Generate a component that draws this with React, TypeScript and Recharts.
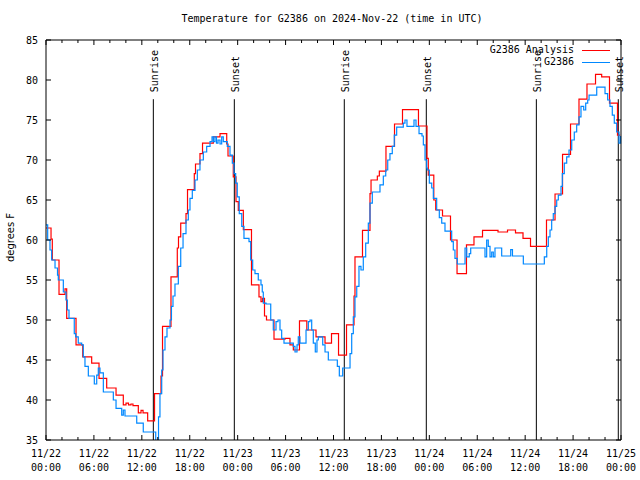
import React from 'react';
import { LineChart, Line, XAxis, YAxis, ReferenceLine } from 'recharts';

// hours since 11/22 00:00 UTC, and temperatures (deg F)
const analysisHours = [
  0, 0.63, 0.79, 1.63, 2.38, 2.59, 3.76, 4.6, 5.72, 6.64, 7.6, 8.77, 9.68, 10.02, 10.33, 10.64, 10.89,
  11.56, 11.9, 12.15, 12.73, 13.59, 14.4, 14.59, 15.65, 16.44, 16.59, 16.87, 17.53, 17.72, 18.57,
  18.72, 19.28, 19.6, 20.95, 21.79, 22.63, 22.79, 23.45, 23.79, 24.08, 24.71, 25.73, 26.67, 26.92,
  27.11, 27.36, 27.61, 28.55, 29.93, 30.55, 30.97, 31.74, 32.66, 33.81, 34.94, 35.75, 36.63, 37.63,
  38.57, 38.69, 39.63, 40.57, 40.7, 41.49, 41.74, 42.57, 43.64, 44.64, 46.64, 47.71, 47.87, 48.56,
  48.8, 49.65, 50.65, 51.47, 52.65, 53.59, 54.66, 56.6, 57.79, 58.79, 59.73, 60.67, 62.67, 63.74,
  64.68, 65.68, 66.74, 67.74, 68.81, 69.58, 70.56, 71.56, 71.9,
];
const analysisTemps = [
  61.5, 60.1, 57.5, 53.2, 53.9, 50.2, 46.9, 45.4, 44.6, 42.7, 41.5, 40.6, 39.4, 39.6, 39.4, 39.5, 39.3,
  38.4, 38.7, 38.4, 37.4, 40.8, 43.0, 49.2, 55.4, 59.0, 60.4, 62.1, 63.3, 66.3, 68.3,
  69.5, 70.8, 72.1, 72.9, 73.3, 72.0, 70.5, 67.9, 64.8, 63.7, 61.3, 54.4, 52.9, 52.3,
  52.7, 50.5, 50.0, 47.6, 47.7, 46.9, 46.25, 49.9, 48.75, 47.9, 47.1, 48.3, 45.6, 49.4,
  53.0, 57.9, 61.2, 65.8, 67.5, 68.0, 68.6, 71.7, 74.5, 76.3, 74.25, 70.2, 68.1, 65.0,
  63.75, 63.0, 60.0, 55.8, 59.4, 60.4, 61.2, 61.0, 61.25, 60.9, 60.2, 59.2, 62.5, 65.75,
  70.7, 74.5, 77.6, 79.5, 80.7, 80.4, 77.1, 73.1, 73.1,
];

const stationHours = [
  0, 0.21, 0.5, 0.71, 1.13, 1.44, 1.54, 2.17, 2.5, 2.67, 2.88, 3.54, 3.72, 4.04, 4.47, 4.67, 4.88, 5.3,
  6.05, 6.35, 6.55, 6.76, 7.18, 8.43, 8.77, 9.48, 9.68, 9.89, 11.36, 12.18, 13.74, 14.09, 14.27,
  14.49, 14.65, 14.9, 15.15, 15.53, 15.71, 15.9, 16.15, 16.57, 16.87, 17.16, 17.53, 17.82, 18.03,
  18.32, 18.66, 18.95, 19.28, 19.7, 20.12, 20.54, 20.79, 20.97, 21.16, 21.35, 21.54, 21.79, 22.0,
  22.2, 22.7, 23.04, 23.33, 23.54, 23.75, 23.95, 24.2, 24.51, 24.79, 25.42, 25.63, 25.88, 26.17,
  26.58, 26.92, 27.08, 27.21, 27.55, 28.14, 28.46, 28.8, 29.05, 29.3, 29.51, 29.8, 30.97, 31.18,
  31.43, 31.59, 31.8, 32.56, 32.85, 33.06, 33.27, 33.47, 33.72, 33.93, 34.1, 34.65, 34.94, 35.35,
  36.48, 36.73, 37.15, 38.07, 38.28, 38.48, 38.69, 38.91, 39.19, 39.44, 39.73, 40.03, 40.36, 40.57,
  40.86, 41.82, 42.24, 42.54, 42.79, 43.07, 43.36, 43.61, 43.91, 44.74, 44.95, 45.2, 46.08, 46.33,
  46.71, 47.08, 47.25, 47.46, 47.67, 47.75, 48.0, 48.3, 48.5, 48.92, 49.25, 49.55, 49.96, 50.8,
  51.0, 51.21, 51.5, 52.47, 52.68, 53.0, 53.18, 54.97, 55.18, 55.38, 55.6, 55.81, 56.01, 56.22,
  57.06, 58.19, 58.41, 59.77, 62.4, 62.7, 62.9, 63.11, 63.32, 63.52, 63.74, 63.95, 64.15, 64.49,
  64.65, 64.9, 65.2, 65.49, 65.83, 66.15, 66.45, 66.74, 66.99, 67.33, 67.58, 67.83, 68.0, 68.96,
  70.0, 70.33, 70.62, 70.91, 71.16, 71.46, 71.75, 71.94,
];
const stationTemps = [
  61.9, 60.0, 58.75, 57.5, 56.5, 55.6, 55.0, 53.5, 52.5, 51.25, 50.2, 48.3, 47.9, 47.1, 46.9, 45.4, 44.2, 43.0,
  42.0, 43.1, 44.0, 43.4, 41.0, 40.0, 38.96, 38.1, 38.75, 38.0, 37.1, 36.0, 34.5, 37.9, 40.8,
  43.75, 46.25, 47.9, 49.0, 50.0, 51.7, 53.0, 54.5, 56.7, 59.0, 60.8, 62.5, 63.75, 65.2,
  66.2, 67.5, 68.75, 70.0, 71.0, 71.7, 72.3, 72.9, 72.3, 72.9, 72.1, 72.5, 72.0, 72.9,
  72.3, 71.7, 70.6, 69.6, 68.3, 67.1, 65.4, 63.3, 61.7, 60.2, 59.8, 57.5, 56.25, 55.8,
  55.0, 54.4, 53.5, 52.1, 52.0, 50.0, 48.75, 49.8, 50.0, 48.75, 47.7, 47.1, 46.7, 46.0,
  46.9, 47.9, 47.1, 48.75, 49.8, 50.0, 48.75, 47.1, 46.0, 47.5, 47.9, 46.9, 46.0, 45.0,
  44.2, 43.0, 44.0, 45.8, 48.3, 50.4, 52.9, 54.2, 56.7, 56.25, 57.9, 59.6, 62.1, 64.6,
  66.0, 66.9, 68.0, 68.75, 70.0, 70.8, 71.7, 73.1, 74.1, 74.6, 75.0, 74.2, 75.0, 74.2,
  73.3, 73.0, 71.9, 70.0, 69.0, 68.75, 67.1, 66.5, 65.2, 63.75, 62.8, 62.1, 61.1, 59.8,
  58.75, 57.7, 57.0, 59.0, 57.9, 58.3, 59.0, 57.9, 60.0, 59.2, 57.9, 58.5, 57.9, 59.0,
  58.0, 58.8, 58.0, 57.0, 57.9, 59.2, 60.4, 61.25, 62.5, 63.3, 64.2, 65.0, 65.6, 66.7,
  68.3, 69.6, 70.4, 71.25, 72.5, 73.5, 74.4, 75.4, 76.7, 76.25, 77.1, 77.5, 78.1, 79.1,
  78.3, 77.5, 76.7, 75.6, 74.6, 73.5, 72.1, 73.0,
];

const sunLabels = ['Sunrise', 'Sunset', 'Sunrise', 'Sunset', 'Sunrise', 'Sunset'];
const sunHours = [13.44, 23.58, 37.35, 47.62, 61.4, 71.66];

const xTicks = [0, 2, 4, 6, 8, 10, 12, 14, 16, 18, 20, 22, 24, 26, 28, 30, 32, 34, 36, 38, 40, 42, 44, 46, 48, 50, 52, 54, 56, 58, 60, 62, 64, 66, 68, 70, 72];
const tickDates = ['11/22', '11/22', '11/22', '11/22', '11/23', '11/23', '11/23', '11/23', '11/24', '11/24', '11/24', '11/24', '11/25'];
const tickTimes = ['00:00', '06:00', '12:00', '18:00'];
const yTicks = [35, 40, 45, 50, 55, 60, 65, 70, 75, 80, 85];

const analysisData = analysisHours.map((h, i) => ({ h, t: analysisTemps[i] }));
const stationData = stationHours.map((h, i) => ({ h, t: stationTemps[i] }));

const TOP = 40;
const BOTTOM = 440;
const LEFT = 46;
const RIGHT = 621;
const mono = '"DejaVu Sans Mono", monospace';

const BottomTick = (props: any) => {
  const { x, payload } = props;
  const major = payload.value % 6 === 0;
  const idx = payload.value / 6;
  return (
    <g>
      <line x1={x} x2={x} y1={BOTTOM} y2={BOTTOM - (major ? 5 : 3)} stroke="#000" />
      {major && (
        <text x={x} y={BOTTOM + 17} textAnchor="middle" fontFamily={mono} fontSize={10} fill="#000">
          <tspan x={x} dy={0}>{tickDates[idx]}</tspan>
          <tspan x={x} dy={14}>{tickTimes[idx % 4]}</tspan>
        </text>
      )}
    </g>
  );
};

const TopTick = (props: any) => {
  const { x, payload } = props;
  const major = payload.value % 6 === 0;
  return <line x1={x} x2={x} y1={TOP} y2={TOP + (major ? 5 : 3)} stroke="#000" />;
};

const LeftTick = (props: any) => {
  const { y, payload } = props;
  return (
    <g>
      <line x1={LEFT} x2={LEFT + 5} y1={y} y2={y} stroke="#000" />
      <text x={LEFT - 8} y={y} textAnchor="end" dominantBaseline="central" fontFamily={mono} fontSize={10} fill="#000">
        {payload.value}
      </text>
    </g>
  );
};

const RightTick = (props: any) => {
  const { y } = props;
  return <line x1={RIGHT} x2={RIGHT - 5} y1={y} y2={y} stroke="#000" />;
};

const sunLabel = (text: string) => (props: any) => {
  const vb = props.viewBox || {};
  const x = vb.x + 1;
  const y = vb.y - 7;
  return (
    <text x={x} y={y} transform={`rotate(-90 ${x} ${y})`} textAnchor="start" dominantBaseline="central"
      fontFamily={mono} fontSize={10} fill="#000">
      {text}
    </text>
  );
};

export default function App() {
  return (
    <div style={{ position: 'absolute', left: 0, top: 0, width: 640, height: 480, background: '#fff' }}>
      <div style={{ position: 'absolute', left: 0, top: 13, width: 664, textAlign: 'center', fontFamily: mono, fontSize: 10 }}>
        Temperature for G2386 on 2024-Nov-22 (time in UTC)
      </div>
      <div style={{ position: 'absolute', left: -25, top: 232, width: 70, textAlign: 'center', fontFamily: '"DejaVu Sans", sans-serif', fontSize: 10, transform: 'rotate(-90deg)' }}>
        degrees F
      </div>
      <LineChart width={640} height={480} data={analysisData} margin={{ top: 0, right: 0, bottom: 0, left: 0 }}>
        <XAxis xAxisId="bottom" dataKey="h" type="number" domain={[0, 72]} ticks={xTicks} interval={0}
          height={40} tickLine={false} axisLine={{ stroke: '#000' }} tick={<BottomTick />} />
        <XAxis xAxisId="top" orientation="top" dataKey="h" type="number" domain={[0, 72]} ticks={xTicks} interval={0}
          height={40} tickLine={false} axisLine={{ stroke: '#000' }} tick={<TopTick />} />
        <YAxis yAxisId="left" type="number" domain={[35, 85]} ticks={yTicks} interval={0} allowDataOverflow
          width={46} tickLine={false} axisLine={{ stroke: '#000' }} tick={<LeftTick />} />
        <YAxis yAxisId="right" orientation="right" type="number" domain={[35, 85]} ticks={yTicks} interval={0} allowDataOverflow
          width={19} tickLine={false} axisLine={{ stroke: '#000' }} tick={<RightTick />} />
        {sunHours.map((h, i) => (
          <ReferenceLine key={`sun-${i}`} xAxisId="bottom" yAxisId="left" stroke="#000" strokeWidth={1}
            segment={[{ x: h, y: 77.6 }, { x: h, y: 35 }]} label={sunLabel(sunLabels[i])} />
        ))}
        <Line xAxisId="bottom" yAxisId="left" data={analysisData} dataKey="t" type="stepAfter" stroke="#ff0000"
          strokeWidth={1.2} dot={false} activeDot={false} isAnimationActive={false} />
        <Line xAxisId="bottom" yAxisId="left" data={stationData} dataKey="t" type="stepAfter" stroke="#0088ff"
          strokeWidth={1.2} dot={false} activeDot={false} isAnimationActive={false} />
      </LineChart>
      <div style={{ position: 'absolute', left: 430, top: 44, fontFamily: mono, fontSize: 10, lineHeight: '12px' }}>
        {[{ name: 'G2386 Analysis', color: '#ff0000' }, { name: 'G2386', color: '#0088ff' }].map((s) => (
          <div key={s.name} style={{ display: 'flex', alignItems: 'center', justifyContent: 'flex-end', width: 180 }}>
            <span>{s.name}</span>
            <span style={{ display: 'inline-block', width: 28, height: 0, borderTop: `1px solid ${s.color}`, marginLeft: 8, marginRight: 0 }} />
          </div>
        ))}
      </div>
    </div>
  );
}
